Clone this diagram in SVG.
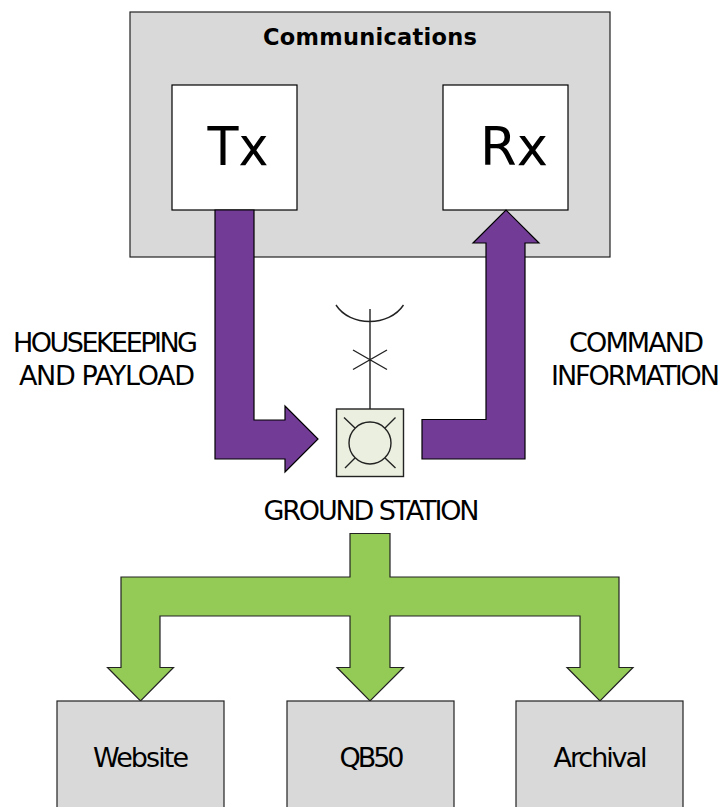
<svg xmlns="http://www.w3.org/2000/svg" width="722" height="807" viewBox="0 0 722 807">
<style>
.box{fill:#d9d9d9;stroke:#222;stroke-width:1.2}
.white{fill:#fff;stroke:#000;stroke-width:1.2}
.pu{fill:#713b96;stroke:#000;stroke-width:1.2}
.gr{fill:#94cb56;stroke:#222;stroke-width:1.2}
.ln{fill:none;stroke:#222;stroke-width:1.4}
text{font-family:"DejaVu Sans",sans-serif;fill:#000;text-anchor:middle}
.lb{font-size:27px}
.big{font-size:54px}
</style>
<rect width="722" height="807" fill="#fff"/>
<g id="communications"><rect class="box" x="130" y="12" width="480" height="245"/><text x="370" y="45" font-size="22.500" font-weight="700" textLength="214" lengthAdjust="spacing">Communications</text></g>
<g id="tx"><rect class="white" x="172" y="85" width="125" height="125"/><text class="big" x="238" y="164.500" textLength="61" lengthAdjust="spacingAndGlyphs">Tx</text></g>
<g id="rx"><rect class="white" x="443" y="85" width="125" height="125"/><text class="big" x="514" y="164.500" textLength="68" lengthAdjust="spacingAndGlyphs">Rx</text></g>
<g id="connectors">
<path class="pu" d="M215 210H254V420H285V406L318 439L285 472V459H215Z"/>
<path class="pu" d="M422 419.500H486V243H473L506 210L539 243H525V459H422Z"/>
<path class="gr" d="M350 533.500H390V577H619V667.500H633L600 701L567 667.500H580V616H390V667.500H403.500L370 701L337 667.500H350V616H160V667.500H173.500L140.500 701L107.500 667.500H121V577H350Z"/>
</g>
<g id="ground-station">
<path class="ln" d="M336 305C350 327 389 327 403.500 305M370 309V409M353 350L387 369.500M353 369.500L387 350"/>
<rect x="336.500" y="409" width="67" height="67.500" fill="#eaefdf" stroke="#222" stroke-width="1.4"/>
<circle cx="370" cy="443" r="21" fill="#eaefdf" stroke="#222" stroke-width="1.4"/>
<path class="ln" d="M344 417.500L355 428M395.500 417.500L385 428M345 468L355 458M395.500 468L385 458"/>
<text class="lb" x="371.500" y="519.500" textLength="216" lengthAdjust="spacing">GROUND STATION</text>
</g>
<g id="label-housekeeping"><text class="lb" x="105.500" y="351.500" textLength="185" lengthAdjust="spacing">HOUSEKEEPING</text><text class="lb" x="107" y="384.500" textLength="176" lengthAdjust="spacing">AND PAYLOAD</text></g>
<g id="label-command"><text class="lb" x="636.500" y="351.500" textLength="135" lengthAdjust="spacing">COMMAND</text><text class="lb" x="635.500" y="384.500" textLength="169" lengthAdjust="spacing">INFORMATION</text></g>
<g id="website"><rect class="box" x="57" y="701" width="167" height="110"/><text class="lb" x="141" y="766.500" textLength="96" lengthAdjust="spacing">Website</text></g>
<g id="qb50"><rect class="box" x="287" y="701" width="167" height="110"/><text class="lb" x="372" y="766.500" textLength="65" lengthAdjust="spacing">QB50</text></g>
<g id="archival"><rect class="box" x="516" y="701" width="167" height="110"/><text class="lb" x="600.500" y="766.500" textLength="94" lengthAdjust="spacing">Archival</text></g>
</svg>
